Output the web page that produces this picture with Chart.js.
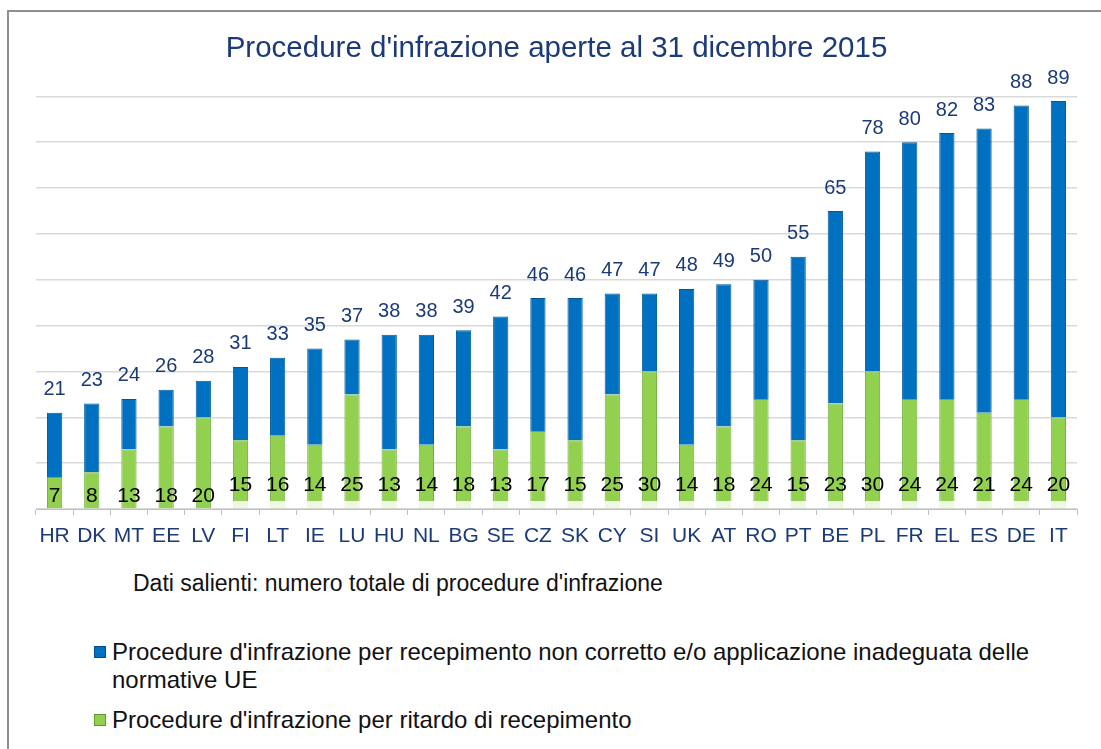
<!DOCTYPE html>
<html>
<head>
<meta charset="utf-8">
<script src="https://cdn.jsdelivr.net/npm/chart.js@4"></script>
<style>
  body { margin: 0; background: #fff; font-family: "Liberation Sans", Arial, sans-serif; }
  #frame { position: absolute; left: 7px; top: 10px; width: 1200px; height: 800px; border: 2px solid #8f8f8f; box-sizing: border-box; }
  #chart-box { position: absolute; left: 0; top: 0; width: 1101px; height: 549px; }
  .note { position: absolute; left: 133px; top: 569px; font-size: 23px; line-height: 28px; color: #111; }
  .legend-item { position: absolute; left: 94px; font-size: 24px; color: #111; line-height: 28px; white-space: nowrap; }
  .swatch { display: inline-block; width: 10px; height: 10px; margin-right: 6px; vertical-align: 2px; }
</style>
</head>
<body>
<div id="frame"></div>
<div id="chart-box"><canvas id="infractionChart"></canvas></div>
<div class="note">Dati salienti: numero totale di procedure d'infrazione</div>
<div class="legend-item" style="top: 638px;"><span class="swatch" style="background:#0070c0;border:1px solid #004f8c;"></span>Procedure d'infrazione per recepimento non corretto e/o applicazione inadeguata delle<br><span style="margin-left:18px;">normative UE</span></div>
<div class="legend-item" style="top: 706px;"><span class="swatch" style="background:#92d050;border:1px solid #5f9a2e;"></span>Procedure d'infrazione per ritardo di recepimento</div>
<script>
const countries = ["HR", "DK", "MT", "EE", "LV", "FI", "LT", "IE", "LU", "HU", "NL", "BG", "SE", "CZ",
  "SK", "CY", "SI", "UK", "AT", "RO", "PT", "BE", "PL", "FR", "EL", "ES", "DE", "IT"];
// procedure per ritardo di recepimento (verde)
const ritardo = [7, 8, 13, 18, 20, 15, 16, 14, 25, 13, 14, 18, 13, 17, 15, 25, 30, 14, 18, 24, 15, 23, 30, 24, 24, 21, 24, 20];
// procedure per recepimento non corretto (blu)
const nonCorretto = [14, 15, 11, 8, 8, 16, 17, 21, 12, 25, 24, 21, 29, 29, 31, 22, 17, 34, 31, 26, 40, 42, 48, 56, 58, 62, 64, 69];
// totali mostrati sopra le barre
const totali = [21, 23, 24, 26, 28, 31, 33, 35, 37, 38, 38, 39, 42, 46, 46, 47, 47, 48, 49, 50, 55, 65, 78, 80, 82, 83, 88, 89];

const navy = "#1b3a78";
const fontFam = "'Liberation Sans', Arial, sans-serif";

// labels: totals above, green values near the axis
const labelPlugin = {
  id: "barLabels",
  afterDatasetsDraw(chart) {
    const ctx = chart.ctx;
    const meta = chart.getDatasetMeta(1);
    const y = chart.scales.y;
    const bottom = y.getPixelForValue(0);
    ctx.save();
    ctx.textAlign = "center";
    ctx.textBaseline = "middle";
    meta.data.forEach((bar, i) => {
      ctx.font = "20px " + fontFam;
      ctx.fillStyle = navy;
      ctx.fillText(String(totali[i]), bar.x, y.getPixelForValue(totali[i]) - 23);
      if (i >= 5) {
        ctx.fillStyle = "rgba(255,255,255,0.85)";
        ctx.fillRect(bar.x - 9, bottom - 8, 18, 7);
      }
      ctx.font = "21px " + fontFam;
      ctx.fillStyle = "#000";
      ctx.fillText(String(ritardo[i]), bar.x, i < 5 ? bottom - 13 : bottom - 24);
    });
    ctx.restore();
  },
};

const ctx = document.getElementById("infractionChart").getContext("2d");
new Chart(ctx, {
  type: "bar",
  data: {
    labels: countries,
    datasets: [
      {
        label: "Procedure d'infrazione per ritardo di recepimento",
        data: ritardo,
        backgroundColor: "#92d050",
        borderColor: "#72ad3c",
        borderWidth: 1,
        barPercentage: 0.41,
        categoryPercentage: 1,
      },
      {
        label: "Procedure d'infrazione per recepimento non corretto e/o applicazione inadeguata delle normative UE",
        data: nonCorretto,
        backgroundColor: "#0070c0",
        borderColor: "#00589a",
        borderWidth: 1,
        barPercentage: 0.41,
        categoryPercentage: 1,
      },
    ],
  },
  options: {
    responsive: true,
    maintainAspectRatio: false,
    animation: false,
    layout: { padding: { left: 36, right: 24, top: 0, bottom: 0 } },
    plugins: {
      legend: { display: false },
      tooltip: { enabled: false },
      title: {
        display: true,
        text: "Procedure d'infrazione aperte al 31 dicembre 2015",
        color: navy,
        font: { size: 29.5, family: fontFam, weight: "normal" },
        padding: { top: 31, bottom: 30 },
      },
    },
    scales: {
      x: {
        stacked: true,
        grid: { drawOnChartArea: false, drawTicks: true, tickLength: 6, color: "#bfbfbf", offset: true },
        border: { color: "#bfbfbf" },
        ticks: {
          color: navy,
          padding: 9,
          font: { size: 21, family: fontFam },
          maxRotation: 0,
          autoSkip: false,
        },
        afterFit(scale) { scale.height = 40; },
      },
      y: {
        stacked: true,
        min: 0,
        max: 90,
        ticks: { display: false, stepSize: 10 },
        grid: { color: "#d9d9d9", lineWidth: 1.5, drawTicks: false },
        border: { display: false },
        afterFit(scale) { scale.width = 0; },
      },
    },
  },
  plugins: [labelPlugin],
});
</script>
</body>
</html>
